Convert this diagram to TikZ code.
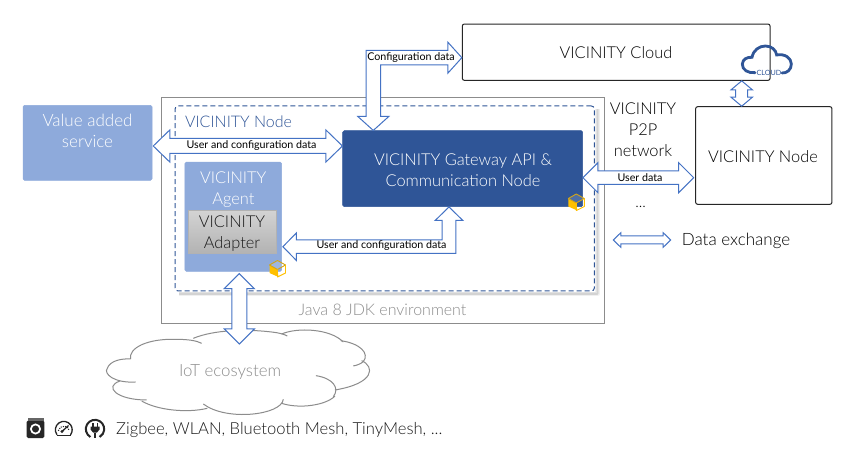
\documentclass[tikz,border=0pt]{standalone}
\usepackage{fontspec}
\setmainfont{Lato}[UprightFont=* Light,BoldFont=*]
\usetikzlibrary{calc}
\definecolor{lightblue}{HTML}{8EAADB}
\definecolor{darkblue}{HTML}{2F5597}
\definecolor{arrowblue}{HTML}{4472C4}
\definecolor{softgray}{HTML}{8C8C8C}
\definecolor{iconink}{HTML}{262626}
\definecolor{cubeyellow}{HTML}{FFC000}
\tikzset{
  block/.style={draw=#1,fill=#1,rounded corners=1.5pt,line width=.5pt,inner sep=0pt},
  framebox/.style={draw=#1,rounded corners=2pt,line width=1pt,inner sep=0pt},
  blockarrow/.style={draw=arrowblue,fill=white,line width=1pt,line join=miter},
  bigtext/.style={font=\fontsize{17}{21}\selectfont,align=center,inner sep=0pt},
  captext/.style={font=\fontsize{16.4}{21}\selectfont,align=center,inner sep=0pt},
  arrowtext/.style={font=\fontsize{10.7}{12}\bfseries\selectfont,inner sep=0pt,text=black},
  cloudline/.style={draw=softgray,line width=1pt},
  cloudicon/.style={draw=darkblue,line width=2.8pt,line cap=round},
  softshadow/.style={draw=black,line width=#1,opacity=.06,line join=round},
}
% straight double block arrow between named points: ends, shaft half width, head half width, head length
\newcommand{\dblarrow}[5]{%
  \path[blockarrow] (#1)
   -- ($(#1)!#5pt!(#2)!#4pt!90:(#2)$) -- ($(#1)!#5pt!(#2)!#3pt!90:(#2)$)
   -- ($(#2)!#5pt!(#1)!#3pt!-90:(#1)$) -- ($(#2)!#5pt!(#1)!#4pt!-90:(#1)$)
   -- (#2)
   -- ($(#2)!#5pt!(#1)!#4pt!90:(#1)$) -- ($(#2)!#5pt!(#1)!#3pt!90:(#1)$)
   -- ($(#1)!#5pt!(#2)!#3pt!-90:(#2)$) -- ($(#1)!#5pt!(#2)!#4pt!-90:(#2)$)
   -- cycle;}
% elbow block arrow: vertical tip, horizontal tip, v sign, h sign, shaft half, head half, head length
\newcommand{\elbowarrow}[7]{%
  \path[blockarrow] (#1)
   -- ($(#1)+({#4*#6},{-#3*#7})$) -- ($(#1)+({#4*#5},{-#3*#7})$)
   -- ($(#1 |- #2)+({#4*#5},{#3*#5})$)
   -- ($(#2)+({-#4*#7},{#3*#5})$) -- ($(#2)+({-#4*#7},{#3*#6})$)
   -- (#2)
   -- ($(#2)+({-#4*#7},{-#3*#6})$) -- ($(#2)+({-#4*#7},{-#3*#5})$)
   -- ($(#1 |- #2)+({-#4*#5},{-#3*#5})$)
   -- ($(#1)+({-#4*#5},{-#3*#7})$) -- ($(#1)+({-#4*#6},{-#3*#7})$)
   -- cycle;}
\newcommand{\cubeicon}[1]{%
  \begin{scope}[shift={(#1)},line width=.9pt,line join=round]
    \fill[cubeyellow] (-8,-3) -- (0,1) -- (1,8.5) -- (-8,4.5) -- cycle;
    \draw[draw=cubeyellow!80!black!90,fill=white,fill opacity=.15] (-8,-3.5) -- (0,-8) -- (8,-3.5) -- (0,1) -- cycle;
    \draw[draw=cubeyellow] (0,1) -- (0,8.5) -- (8,4.5) -- (8,-3.5);
  \end{scope}}
\begin{document}
\begin{tikzpicture}[x=1pt,y=-1pt]
\useasboundingbox (0,0) rectangle (849,454);
\fill[white] (0,0) rectangle (849,454);

% containers
\node[draw=softgray,line width=1pt,fill=white,minimum width=443.4pt,minimum height=225.7pt,inner sep=0pt] (java) at (383,210.2) {};
\node[draw=darkblue,dash pattern=on 5pt off 3pt,line width=1pt,fill=white,rounded corners=3pt,minimum width=419.3pt,minimum height=185pt,inner sep=0pt] (vnode) at (384.7,198.5) {};
\foreach \w in {1.5pt,3pt,4.5pt}
  \draw[softshadow=\w] ($(vnode.north east)+(2.5,4)$) -- ($(vnode.south east)+(2.5,2.5)$) -- ($(vnode.south west)+(4,2.5)$);
\node[font=\fontsize{16}{20}\selectfont,text=darkblue,inner sep=0pt] (vnodelabel) at (238.5,122) {VICINITY Node};
\node[font=\fontsize{16}{20}\selectfont,text=softgray,inner sep=0pt] (javalabel) at (382.5,310) {Java 8 JDK environment};

% blue blocks
\node[block=lightblue,minimum width=129pt,minimum height=75pt] (value) at (87.5,142.8) {};
\node[bigtext,text=white] (valuetext) at (87.5,130.5) {Value added\\service};
\node[block=lightblue,minimum width=96.7pt,minimum height=109.3pt] (agent) at (233.3,216.7) {};
\node[captext,text=white] (agenttext) at (233.3,189.5) {VICINITY\\Agent};
\node[draw=black!30,top color=black!17,bottom color=black!30,line width=.6pt,minimum width=87.7pt,minimum height=43.3pt,inner sep=0pt] (adapter) at (232.2,231.7) {};
\node[captext,text=black!90] (adaptertext) at (232,234) {VICINITY\\Adapter};
\node[block=darkblue,minimum width=240pt,minimum height=76pt] (gateway) at (462.7,168.7) {};
\node[captext,text=white] (gatewaytext) at (463,170.2) {VICINITY Gateway API \&\\Communication Node};

% right frames
\node[framebox=black,minimum width=307.7pt,minimum height=56.3pt,draw=black!85] (cloud) at (616.2,52.2) {};
\node[captext] (cloudtext) at (616,53) {VICINITY Cloud};
\node[framebox=black,minimum width=136.3pt,minimum height=97.6pt,draw=black!85] (rnode) at (763.8,155.5) {};
\node[captext] (rnodetext) at (763,157) {VICINITY Node};
\node[captext] (p2p) at (643,129.5) {VICINITY\\P2P\\network};
\node[font=\fontsize{15}{18}\selectfont,inner sep=0pt] (dots) at (640.5,207) {...};
\node[bigtext,anchor=west] (exch) at (681.7,241.2) {Data exchange};
\coordinate (exchL) at (613.3,240);
\coordinate (exchR) at (670.7,240);

% IoT cloud
\node[font=\fontsize{16.8}{20}\selectfont,text=softgray,inner sep=0pt] (iot) at (230,372) {IoT ecosystem};
\begin{scope}[shift={(0,320)},x=.3333pt,y=-.3333pt]
  \draw[cloudline] (392,117) .. controls (385,85) and (440,55) .. (530,58) .. controls (565,58) and (590,62) .. (605,70);
  \draw[cloudline] (580,55) .. controls (640,30) and (740,25) .. (830,38) .. controls (845,41) and (855,44) .. (862,48);
  \draw[cloudline] (845,42) .. controls (890,22) and (990,25) .. (1030,66);
  \draw[cloudline] (1022,62) .. controls (1080,70) and (1110,100) .. (1090,125) .. controls (1082,132) and (1070,136) .. (1060,138);
  \draw[cloudline] (1085,122) .. controls (1125,140) and (1125,190) .. (1005,210);
  \draw[cloudline] (948,167) .. controls (1000,175) and (1020,205) .. (1000,230);
  \draw[cloudline] (1005,228) .. controls (980,255) and (900,268) .. (845,250);
  \draw[cloudline] (850,238) .. controls (845,285) and (680,305) .. (610,252);
  \draw[cloudline] (622,265) .. controls (560,280) and (470,270) .. (425,243);
  \draw[cloudline] (440,240) .. controls (350,240) and (310,200) .. (360,183);
  \draw[cloudline] (407,186) .. controls (340,190) and (310,160) .. (322,145) .. controls (330,122) and (365,115) .. (392,117);
\end{scope}

% connectors
\coordinate (v1) at (value.east |- 0,146);
\coordinate (g1) at (gateway.west |- 0,146);
\dblarrow{$(v1)+(1,0)$}{g1}{7.5}{16}{16.5}
\node[arrowtext] (t1) at (251.5,146) {User and configuration data};

\coordinate (g2) at (gateway.north -| 373.3,0);
\coordinate (c2) at (cloud.west |- 0,57.7);
\elbowarrow{g2}{c2}{1}{1}{7.3}{15.5}{14}
\node[arrowtext] (t2) at (411,58) {Configuration data};

\coordinate (g3) at (gateway.south -| 449,0);
\coordinate (a3) at ($(agent.east |- 0,246.7)+(1,0)$);
\elbowarrow{g3}{a3}{-1}{-1}{6.8}{13.8}{13.5}
\node[arrowtext] (t3) at (381.5,246) {User and configuration data};

\coordinate (g4) at (gateway.east |- 0,177.7);
\coordinate (n4) at ($(rnode.west |- 0,177.7)+(-1.5,0)$);
\dblarrow{g4}{n4}{6.8}{15}{15}
\node[arrowtext] (t4) at (640,177.5) {User data};

\coordinate (a5) at ($(agent.south -| 239.3,0)+(0,2)$);
\coordinate (i5) at (239.3,344);
\dblarrow{a5}{i5}{7.5}{15}{15}

\coordinate (c6) at (cloud.south -| 741.7,0);
\coordinate (n6) at (rnode.north -| 741.7,0);
\dblarrow{c6}{n6}{6}{10.7}{9}

\dblarrow{exchL}{exchR}{4}{7.3}{7.5}

% cloud icon
\begin{scope}[shift={(720,30)},x=.3333pt,y=-.3333pt]
  \draw[cloudicon] (105,128) .. controls (85,130) and (66,120) .. (67,102) .. controls (68,88) and (82,80) .. (96,82)
    .. controls (100,60) and (118,48) .. (136,48) .. controls (155,48) and (168,60) .. (170,75)
    .. controls (195,70) and (214,85) .. (214,102) .. controls (214,120) and (200,130) .. (186,129);
\end{scope}
\node[font=\fontsize{7.2}{8}\bfseries\selectfont,text=darkblue,inner sep=0pt] (cloudword) at (769,72.6) {CLOUD};

% cubes
\cubeicon{277.5,268.5}
\cubeicon{576.3,202}

% bottom row
\node[font=\fontsize{16.6}{20}\selectfont,inner sep=0pt,anchor=west,text=black!90] (protocols) at (116,430.2) {Zigbee, WLAN, Bluetooth Mesh, TinyMesh, ...};
% washer
\fill[iconink,rounded corners=1.5pt] (26.7,420.5) rectangle (44.3,438);
\fill[black!60] (27.5,418) rectangle (43.5,420.5);
\draw[white,line width=1.7pt] (35.5,429) circle (4.6);
% gauge
\draw[iconink,line width=1.3pt,line cap=round] (56.9,434.6) arc[start angle=145,end angle=395,radius=8.4];
\draw[iconink,line width=1.1pt] (56.9,435.2) -- (70.7,435.2);
\draw[iconink,line width=1.1pt,dash pattern=on 1pt off 1.2pt] (58.3,430.8) arc[start angle=190,end angle=350,radius=5.6];
\fill[iconink] (62,431.5) circle (1.7);
\draw[iconink,line width=1.3pt] (62,431.5) -- (68.5,425.5);
% plug
\draw[iconink,line width=2pt] (90.4,437) arc[start angle=120,end angle=420,radius=9.2];
\fill[iconink] (90.5,426.5) -- (99.5,426.5) -- (99.5,429.5) -- (97,432.5) -- (93,432.5) -- (90.5,429.5) -- cycle;
\fill[iconink] (92,422.5) rectangle (93.5,426.5);
\fill[iconink] (96.5,422.5) rectangle (98,426.5);
\draw[iconink,line width=1.2pt] (95,432.5) .. controls (95,435) and (95,437) .. (95,438);
\end{tikzpicture}
\end{document}
